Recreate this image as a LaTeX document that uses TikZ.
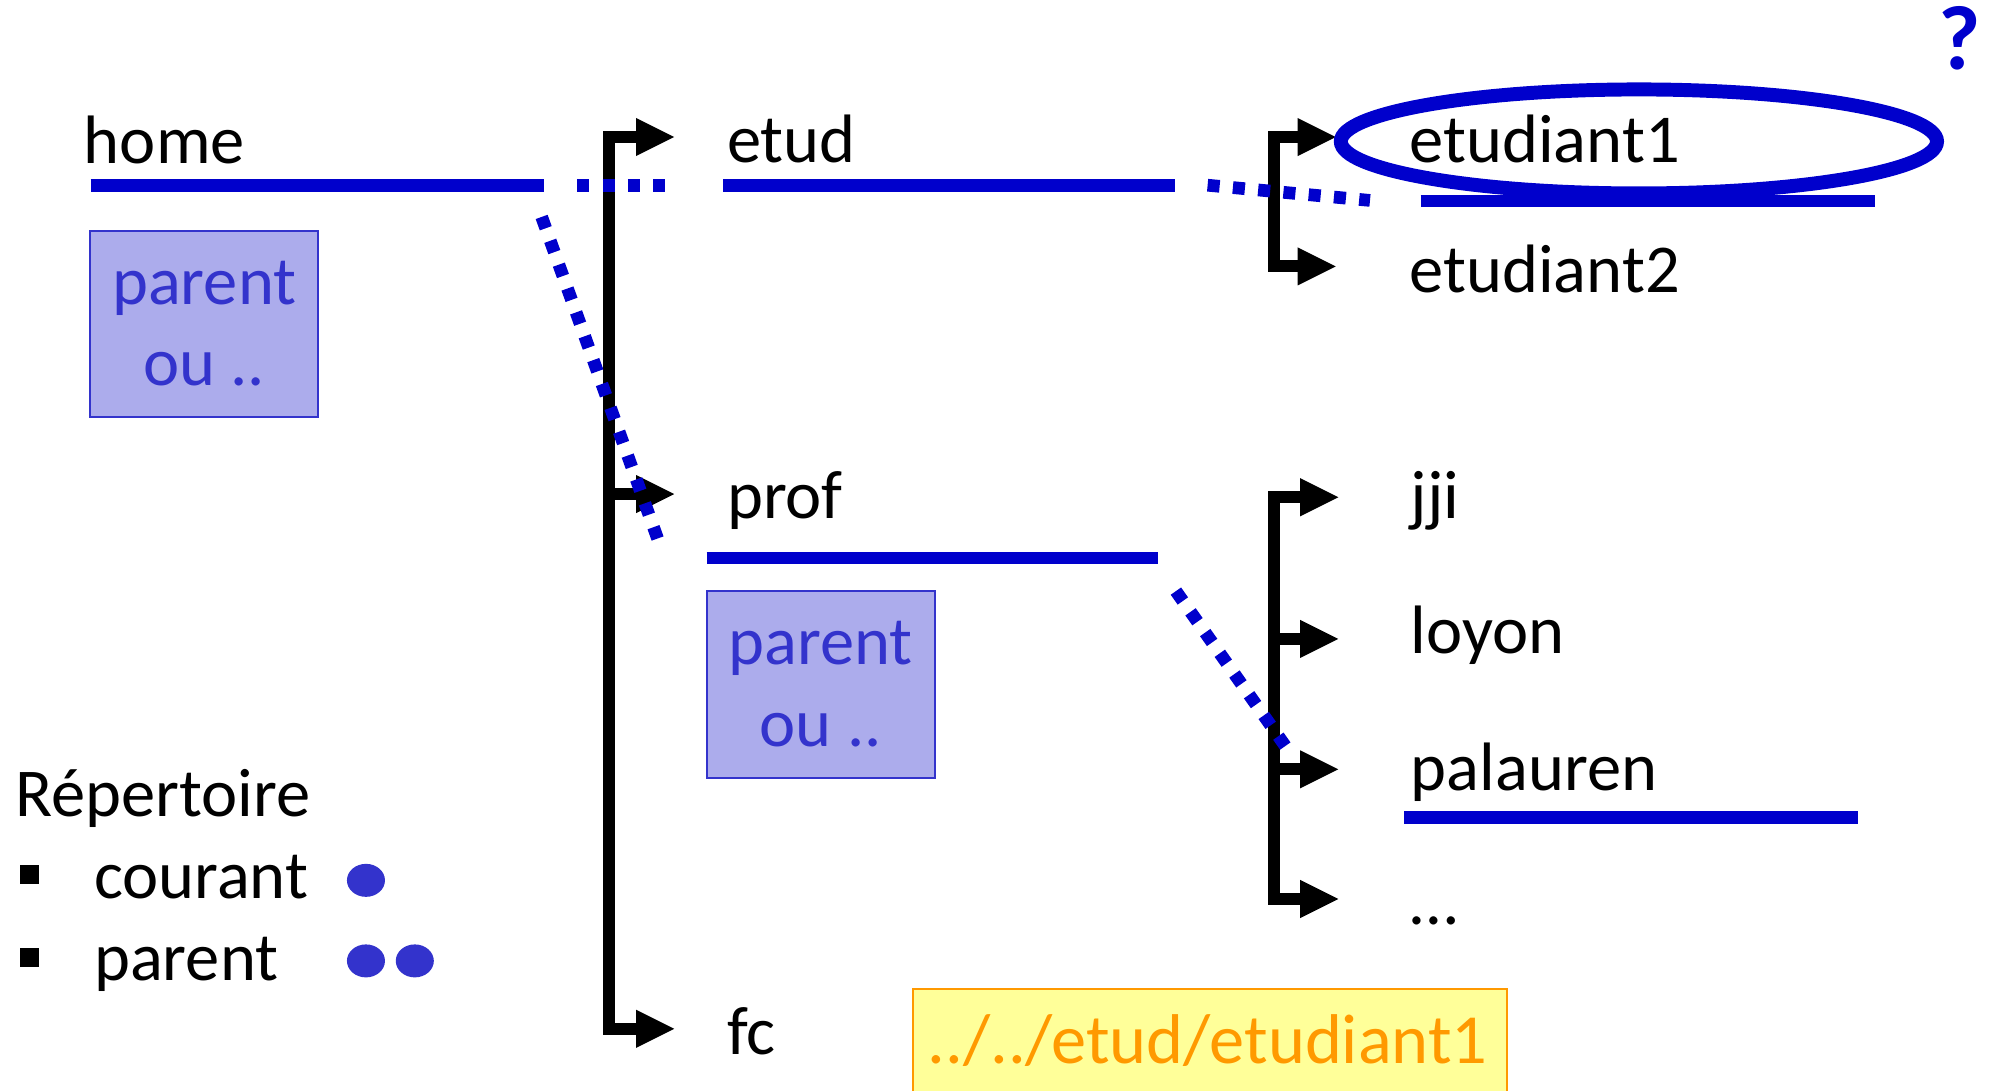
\documentclass[tikz,border=0pt]{standalone}
\usepackage{fontspec}
\setmainfont{Carlito}
\usetikzlibrary{arrows.meta,calc,shapes.geometric}
\definecolor{lineblue}{RGB}{0,0,204}
\definecolor{boxblue}{RGB}{51,51,204}
\definecolor{boxfill}{RGB}{172,172,236}
\definecolor{pathorange}{RGB}{255,153,0}
\definecolor{pathfill}{RGB}{255,255,153}
\newcommand\lblfont{\fontsize{54}{64}\selectfont}

\begin{document}
\begin{tikzpicture}[x=1pt,y=-1pt,
  lbl/.style={anchor=base west,inner sep=0pt,font=\lblfont},
  boxtxt/.style={anchor=base,inner sep=0pt,font=\lblfont,text=boxblue},
  parentbox/.style={draw=boxblue,fill=boxfill,line width=1.5pt,inner sep=0pt,
    minimum width=180pt,minimum height=147pt},
  underl/.style={draw=lineblue,line width=10pt},
  hop/.style={draw=lineblue,line width=10pt,dash pattern=on 9.5pt off 10.5pt},
  branch/.style={draw=black,line width=9.5pt},
  headtip/.tip={Triangle[length=30pt,width=30pt,line width=0pt]},
  legdot/.style={fill=boxblue,draw=none,ellipse,inner sep=0pt,minimum width=30pt,minimum height=26pt},
  bullet/.style={fill=black,draw=none,inner sep=0pt,minimum size=15pt}]

\clip (0,0) rectangle (1568,860);

% ---------- directory labels ----------
\node[lbl] (home) at (66,128.5) {home};
\node[lbl] (etud) at (573,128) {etud};
\node[lbl] (prof) at (573,408.5) {prof};
\node[lbl] (fc) at (573,831) {fc};
\node[lbl] (etu1) at (1111,128) {etudiant1};
\node[lbl] (etu2) at (1111,230.7) {etudiant2};
\node[lbl] (jji) at (1112,409) {jji};
\node[lbl] (loyon) at (1112,515) {loyon};
\node[lbl] (palauren) at (1112,623) {palauren};
\node[lbl] (more) at (1112,729) {…};

% ---------- "parent ou .." boxes ----------
\node[parentbox] (pbox1) at (161,255.5) {};
\node[boxtxt] (pbox1a) at ($(pbox1.north)+(0,58.4)$) {parent};
\node[boxtxt] (pbox1b) at ($(pbox1.north)+(0,123)$) {ou ..};
\node[parentbox] (pbox2) at (647,539.5) {};
\node[boxtxt] (pbox2a) at ($(pbox2.north)+(0,58.4)$) {parent};
\node[boxtxt] (pbox2b) at ($(pbox2.north)+(0,123)$) {ou ..};

% ---------- relative path box ----------
\node[draw=pathorange,fill=pathfill,line width=1.5pt,minimum width=468pt,
  minimum height=100pt,inner sep=0pt] (relbox) at (954,830) {};
\node[anchor=base,inner sep=0pt,font=\fontsize{55.5}{64}\selectfont,text=pathorange] (reltxt)
  at (952,838) {../../etud/etudiant1};

% ---------- tree brackets ----------
\coordinate (r1) at (480,108);
\coordinate (r2) at (480,389.5);
\coordinate (r3) at (480,811);
\coordinate (etudtip) at (531.5,108);
\coordinate (proftip) at (531.5,389.5);
\coordinate (fctip) at (531.5,811);
\draw[branch,{headtip}-{headtip}] (etudtip) -- (r1) -- (r3) -- (fctip);
\draw[branch,-{headtip}] (r2) -- (proftip);

\coordinate (e1) at (1004,108);
\coordinate (e2) at (1004,210);
\coordinate (etu1tip) at (1053,108);
\coordinate (etu2tip) at (1053,210);
\draw[branch,{headtip}-{headtip}] (etu1tip) -- (e1) -- (e2) -- (etu2tip);

\coordinate (p1) at (1004,392);
\coordinate (p2) at (1004,503.7);
\coordinate (p3) at (1004,606.5);
\coordinate (p4) at (1004,708.7);
\coordinate (jjitip) at (1055,392);
\coordinate (loyontip) at (1055,503.7);
\coordinate (palaurentip) at (1055,606.5);
\coordinate (moretip) at (1055,708.7);
\draw[branch,{headtip}-{headtip}] (jjitip) -- (p1) -- (p4) -- (moretip);
\draw[branch,-{headtip}] (p2) -- (loyontip);
\draw[branch,-{headtip}] (p3) -- (palaurentip);

% ---------- highlighted target ----------
\node[draw=lineblue,line width=11pt,ellipse,inner sep=0pt,
  minimum width=470pt,minimum height=82pt] (hl) at (1292,111.5) {};
\node[anchor=base,inner sep=0pt,font=\fontsize{72}{80}\selectfont\bfseries,
  text=lineblue] (qmark) at (1545,55) {?};

% ---------- underlines ----------
\draw[underl] (71.5,146) coordinate (hu0) -- (429,146) coordinate (hu1);
\draw[underl] (570,146) coordinate (eu0) -- (926,146) coordinate (eu1);
\draw[underl] (1120,158.5) coordinate (tu0) -- (1478,158.5) coordinate (tu1);
\draw[underl] (557,440) coordinate (pu0) -- (913,440) coordinate (pu1);
\draw[underl] (1107,644.7) coordinate (lu0) -- (1465,644.7) coordinate (lu1);

% ---------- dotted hops ----------
\coordinate (h1a) at (455,146);  \coordinate (h1b) at (526,146);
\coordinate (h2a) at (952,146);  \coordinate (h2b) at (1080,158);
\coordinate (h3a) at (427,171);  \coordinate (h3b) at (520,429);
\coordinate (h4a) at (927,466);  \coordinate (h4b) at (1016,592);
\draw[hop] (h1a) -- (h1b);
\draw[hop] (h2a) -- (h2b);
\draw[hop] (h3a) -- (h3b);
\draw[hop] (h4a) -- (h4b);

% ---------- legend ----------
\node[lbl] (rep) at (12,644) {Répertoire};
\node[bullet] (b1) at (23.5,689.5) {};
\node[bullet] (b2) at (23.5,755) {};
\node[lbl] (cour) at (74,708) {courant};
\node[lbl] (par) at (74,772.6) {parent};
\node[legdot] (d1) at (288.5,694) {};
\node[legdot] (d2) at (288.5,757.5) {};
\node[legdot] (d3) at (327,757.5) {};
\end{tikzpicture}
\end{document}
